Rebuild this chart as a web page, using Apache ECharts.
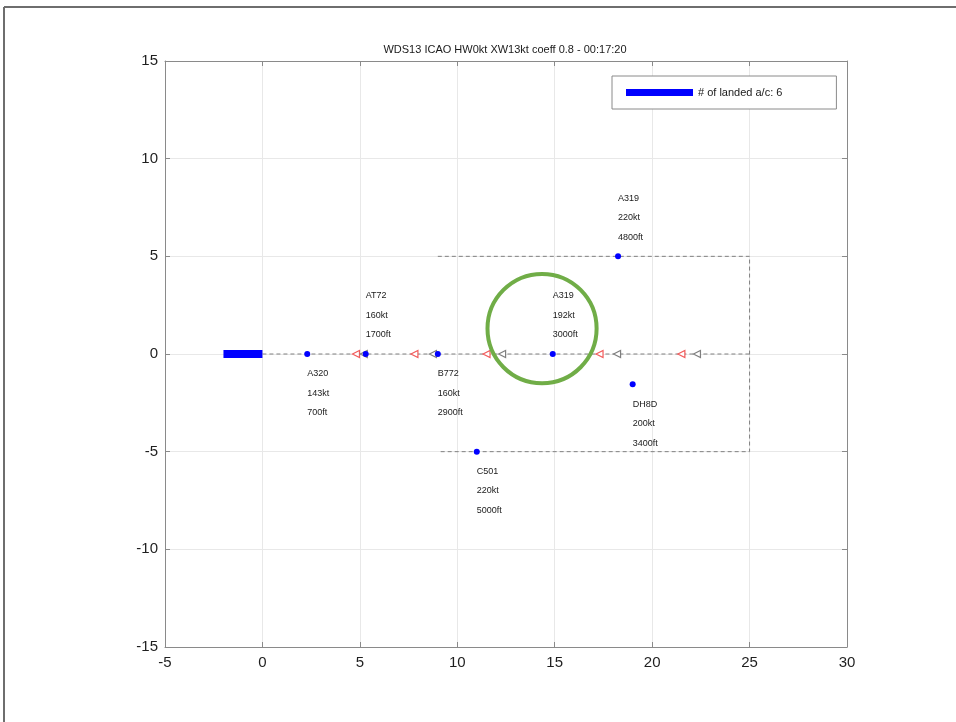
<!DOCTYPE html>
<html>
<head>
<meta charset="utf-8">
<style>html,body{margin:0;padding:0;background:#fff;}#c{width:956px;height:722px;}</style>
<script src="https://cdn.jsdelivr.net/npm/echarts@6/dist/echarts.min.js"></script>
</head>
<body>
<div id="c"></div>
<script>
// ---- data ----
const titleText = 'WDS13 ICAO HW0kt XW13kt coeff 0.8 - 00:17:20';
const legendName = '# of landed a/c: 6';
const xTicks = [-5, 0, 5, 10, 15, 20, 25, 30];
const yTicks = [-15, -10, -5, 0, 5, 10, 15];
const runway = [[-2, 0], [0, 0]];
const centerline = [[0, 0], [25, 0]];
const zoneBox = [[9, 5], [25, 5], [25, -5], [9, -5]];
const acX = [2.3, 5.3, 9.0, 14.9, 18.25, 19.0, 11.0];
const acY = [0, 0, 0, 0, 5, -1.55, -5];
const acType = ['A320', 'AT72', 'B772', 'A319', 'A319', 'DH8D', 'C501'];
const acSpeed = ['143kt', '160kt', '160kt', '192kt', '220kt', '200kt', '220kt'];
const acAlt = ['700ft', '1700ft', '2900ft', '3000ft', '4800ft', '3400ft', '5000ft'];
const acLabelSide = ['below', 'above', 'below', 'above', 'above', 'below', 'below'];
const redMarkX = [4.8, 7.8, 11.5, 17.3, 21.5];
const grayMarkX = [5.2, 8.75, 12.3, 18.2, 22.3];
const highlight = [[14.35, 1.3, 2.8]]; // cx, cy, radius

// ---- chart ----
const chart = echarts.init(document.getElementById('c'));
const FONT = 'Liberation Sans, Arial, sans-serif';

const acData = acX.map((x, i) => ({
  value: [x, acY[i]],
  label: {
    formatter: acType[i] + '\n' + acSpeed[i] + '\n' + acAlt[i],
    position: acLabelSide[i] === 'above' ? [3, -65] : [3, 13]
  }
}));

const axisLineStyle = { lineStyle: { color: '#8a8a8a', width: 1 } };
const tickStyle = { show: true, inside: true, length: 5, lineStyle: { color: '#8a8a8a' } };

chart.setOption({
  animation: false,
  backgroundColor: '#fff',
  title: {
    text: titleText, left: 500, top: 39, textAlign: 'center',
    textStyle: { fontFamily: FONT, fontSize: 11, fontWeight: 'normal', color: '#1a1a1a' }
  },
  legend: {
    data: [legendName], left: 612, top: 76,
    padding: [11, 54, 11, 14],
    borderColor: '#8a8a8a', borderWidth: 1, backgroundColor: '#fff',
    icon: 'rect', itemWidth: 67, itemHeight: 7, itemGap: 5,
    textStyle: { fontFamily: FONT, fontSize: 11, color: '#1a1a1a' }
  },
  grid: { left: 165, right: 109, top: 61, bottom: 75, containLabel: false },
  xAxis: [{
    type: 'value', min: -5, max: 30, interval: 5, position: 'bottom',
    axisLine: Object.assign({ show: true, onZero: false }, axisLineStyle),
    axisTick: tickStyle,
    axisLabel: { fontFamily: FONT, fontSize: 15, color: '#1f1f1f', margin: 8,
      formatter: v => xTicks.includes(v) ? String(v) : '' },
    splitLine: { show: true, lineStyle: { color: '#e8e8e8', width: 1 } }
  }, {
    type: 'value', min: -5, max: 30, interval: 5, position: 'top',
    axisLine: Object.assign({ show: true, onZero: false }, axisLineStyle),
    axisTick: tickStyle, axisLabel: { show: false }, splitLine: { show: false }
  }],
  yAxis: [{
    type: 'value', min: -15, max: 15, interval: 5, position: 'left',
    axisLine: Object.assign({ show: true, onZero: false }, axisLineStyle),
    axisTick: tickStyle,
    axisLabel: { fontFamily: FONT, fontSize: 15, color: '#1f1f1f', margin: 7,
      formatter: v => yTicks.includes(v) ? String(v) : '' },
    splitLine: { show: true, lineStyle: { color: '#e8e8e8', width: 1 } }
  }, {
    type: 'value', min: -15, max: 15, interval: 5, position: 'right',
    axisLine: Object.assign({ show: true, onZero: false }, axisLineStyle),
    axisTick: tickStyle, axisLabel: { show: false }, splitLine: { show: false }
  }],
  graphic: [
    { type: 'line', shape: { x1: 4, y1: 7, x2: 956, y2: 7 }, style: { stroke: '#6e6e6e', lineWidth: 2 }, silent: true },
    { type: 'line', shape: { x1: 4, y1: 7, x2: 4, y2: 722 }, style: { stroke: '#6e6e6e', lineWidth: 2 }, silent: true }
  ],
  series: [
    {
      name: 'centerline', type: 'line', data: centerline, showSymbol: false, symbol: 'none',
      lineStyle: { color: '#808080', width: 1, type: [4, 3] }, z: 2
    },
    {
      name: 'zone', type: 'line', data: zoneBox, showSymbol: false, symbol: 'none',
      lineStyle: { color: '#808080', width: 1, type: [4, 3] }, z: 2
    },
    {
      name: legendName, type: 'line', data: runway, showSymbol: false, symbol: 'none',
      itemStyle: { color: '#0000ff' },
      lineStyle: { color: '#0000ff', width: 8, cap: 'butt' }, z: 3
    },
    {
      name: 'red', type: 'scatter', data: redMarkX.map(x => [x, 0]),
      symbol: 'triangle', symbolSize: 7, symbolRotate: 90,
      itemStyle: { color: '#fff', borderColor: '#f25c5c', borderWidth: 1.2, opacity: 1 }, z: 4
    },
    {
      name: 'gray', type: 'scatter', data: grayMarkX.map(x => [x, 0]),
      symbol: 'triangle', symbolSize: 7, symbolRotate: 90,
      itemStyle: { color: '#fff', borderColor: '#7f7f7f', borderWidth: 1.2, opacity: 1 }, z: 4
    },
    {
      name: 'aircraft', type: 'scatter', data: acData, symbolSize: 6,
      itemStyle: { color: '#0000ff', opacity: 1 }, z: 5,
      label: {
        show: true, align: 'left', verticalAlign: 'top',
        fontFamily: FONT, fontSize: 9, color: '#1a1a1a', lineHeight: 19.5
      }
    },
    {
      name: 'highlight', type: 'custom', data: highlight, z: 6,
      encode: { x: 0, y: 1 },
      renderItem: function (params, api) {
        const c = api.coord([api.value(0), api.value(1)]);
        const s = api.size([api.value(2), api.value(2)]);
        return {
          type: 'ellipse',
          shape: { cx: c[0], cy: c[1], rx: s[0], ry: s[1] },
          style: { fill: 'none', stroke: '#70ad47', lineWidth: 4 }
        };
      }
    }
  ]
});
</script>
</body>
</html>
